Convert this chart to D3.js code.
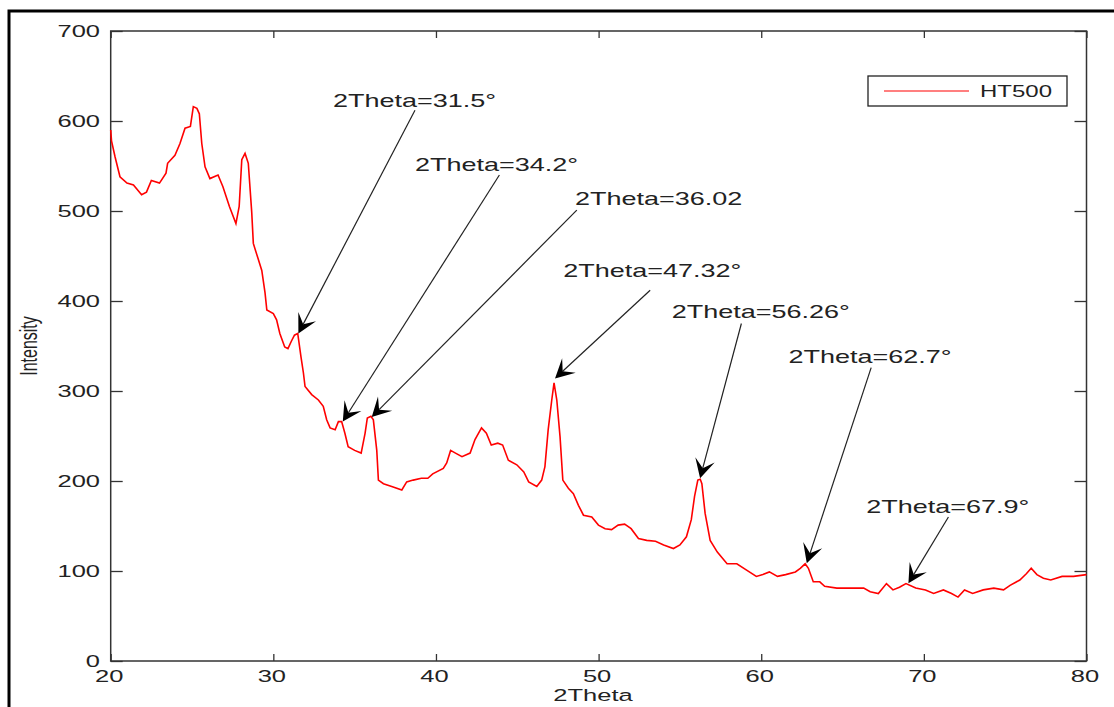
<!DOCTYPE html>
<html>
<head>
<meta charset="utf-8">
<script src="https://cdn.jsdelivr.net/npm/d3@7"></script>
<style>
  html, body { margin: 0; padding: 0; background: #fff; }
  svg { display: block; }
  text { font-family: "Liberation Sans", Arial, sans-serif; fill: #222; }
</style>
</head>
<body>
<svg id="chart" width="1114" height="707"></svg>
<script>
// XRD pattern of sample HT500: 2Theta (deg) vs intensity
const twoTheta = [
  20.0, 20.05, 20.27, 20.57, 21.0, 21.4, 21.9, 22.2, 22.5, 23.0, 23.4, 23.5, 23.95, 24.26, 24.57, 24.9,
  25.08, 25.3, 25.45, 25.6, 25.8, 26.1, 26.6, 26.9, 27.3, 27.7, 27.9, 28.06, 28.26, 28.46, 28.67, 28.77,
  29.08, 29.29, 29.49, 29.6, 30.0, 30.2, 30.4, 30.7, 30.9, 31.1, 31.3, 31.5, 31.7, 31.85, 31.95, 32.36,
  32.77, 33.07, 33.28, 33.49, 33.8, 34.0, 34.2, 34.4, 34.6, 35.0, 35.4, 35.64, 35.78, 36.0, 36.15, 36.36,
  36.46, 36.77, 37.28, 37.9, 38.2, 38.6, 39.1, 39.5, 39.8, 40.45, 40.66, 40.9, 41.2, 41.6, 42.1, 42.4,
  42.8, 43.1, 43.4, 43.8, 44.1, 44.45, 44.97, 45.4, 45.7, 46.2, 46.5, 46.7, 46.9, 47.12, 47.26, 47.43,
  47.63, 47.8, 48.14, 48.45, 48.76, 49.07, 49.58, 49.99, 50.4, 50.8, 51.2, 51.6, 52.0, 52.45, 52.96, 53.5,
  54.0, 54.6, 55.0, 55.4, 55.7, 55.9, 56.1, 56.25, 56.35, 56.55, 56.86, 57.3, 57.9, 58.5, 59.1, 59.7,
  60.1, 60.5, 61.0, 61.5, 62.1, 62.4, 62.7, 62.9, 63.2, 63.6, 63.9, 64.65, 65.5, 66.3, 66.7, 67.2,
  67.7, 68.1, 68.5, 68.9, 69.5, 70.1, 70.6, 71.2, 71.7, 72.1, 72.5, 73.0, 73.65, 74.3, 74.9, 75.3,
  75.9, 76.3, 76.6, 76.95, 77.35, 77.8, 78.5, 79.2, 80.0
];
const intensity = [
  590, 578, 560, 538, 531, 529, 518, 521, 534, 531, 542, 553, 562, 575, 592, 594,
  616, 614, 608, 575, 549, 536, 540, 527, 505, 486, 505, 557, 564, 553, 499, 464,
  446, 434, 409, 390, 386, 379, 364, 349, 347, 355, 362, 364, 338, 320, 305, 296,
  290, 283, 268, 259, 257, 266, 266, 253, 238, 234, 231, 253, 270, 272, 268, 234,
  201, 197, 194, 190, 199, 201, 203, 203, 208, 214, 220, 234, 231, 227, 231, 246,
  259, 253, 240, 242, 240, 223, 218, 210, 199, 194, 201, 216, 257, 290, 309, 290,
  249, 201, 192, 186, 173, 162, 160, 151, 147, 146, 151, 152, 147, 136, 134, 133,
  129, 125, 129, 138, 157, 183, 201, 202, 197, 164, 134, 121, 108, 108, 101, 94,
  96, 99, 94, 96, 99, 103, 108, 103, 88, 88, 83, 81, 81, 81, 77, 75,
  86, 79, 82, 86, 81, 79, 75, 79, 75, 71, 79, 75, 79, 81, 79, 84,
  90, 97, 103, 96, 92, 90, 94, 94, 96
];
const seriesName = "HT500";

const xTicks = [20, 30, 40, 50, 60, 70, 80];
const yTicks = [0, 100, 200, 300, 400, 500, 600, 700];
const xTitle = "2Theta";
const yTitle = "Intensity";

// Peak annotations: label, arrow tip, arrow tail, text anchor (data units)
const annLabels = ["2Theta=31.5°", "2Theta=34.2°", "2Theta=36.02", "2Theta=47.32°",
                   "2Theta=56.26°", "2Theta=62.7°", "2Theta=67.9°"];
const annTipX  = [31.54, 34.27, 36.05, 47.32, 56.24, 62.8, 69.05];
const annTipY  = [364, 266, 271, 314, 203, 108.6, 86.3];
const annTailX = [38.71, 43.9, 48.66, 53.17, 58.78, 66.76, 71.51];
const annTailY = [612, 540, 501, 412, 375, 326, 160];
const annTextX = [33.67, 38.71, 48.55, 47.82, 54.5, 61.67, 66.45];
const annTextY = [616, 544, 507, 427, 381, 331, 164];

const svg = d3.select("#chart");
const W = 1114, H = 707;
const SX = 1.5; // horizontal stretch of all lettering

const x = d3.scaleLinear().domain([20, 80]).range([110.7, 1086.5]);
const y = d3.scaleLinear().domain([0, 700]).range([661, 31]);

svg.append("rect").attr("width", W).attr("height", H).attr("fill", "#fff");

// outer figure frame
svg.append("rect")
  .attr("x", 9).attr("y", 11).attr("width", 1120).attr("height", 720)
  .attr("fill", "none").attr("stroke", "#000").attr("stroke-width", 3);

function stext(g, px, py, str, size, anchor) {
  return g.append("text")
    .attr("transform", `translate(${px},${py}) scale(${SX},1)`)
    .attr("text-anchor", anchor)
    .attr("font-size", size)
    .text(str);
}

// axes (ticks on all four sides, pointing inward)
const axisColor = "#333";
function styleAxis(g) {
  g.select(".domain").remove();
  g.selectAll(".tick line").attr("stroke", axisColor).attr("stroke-width", 1.3);
  g.selectAll(".tick text").remove();
}
svg.append("g").attr("transform", `translate(0,${y(0)})`)
  .call(d3.axisBottom(x).tickValues(xTicks).tickSizeInner(-7).tickSizeOuter(0)).call(styleAxis);
svg.append("g").attr("transform", `translate(0,${y(700)})`)
  .call(d3.axisTop(x).tickValues(xTicks).tickSizeInner(-7).tickSizeOuter(0)).call(styleAxis);
svg.append("g").attr("transform", `translate(${x(20)},0)`)
  .call(d3.axisLeft(y).tickValues(yTicks).tickSizeInner(-12).tickSizeOuter(0)).call(styleAxis);
svg.append("g").attr("transform", `translate(${x(80)},0)`)
  .call(d3.axisRight(y).tickValues(yTicks).tickSizeInner(-12).tickSizeOuter(0)).call(styleAxis);

svg.append("rect")
  .attr("x", x(20)).attr("y", y(700))
  .attr("width", x(80) - x(20)).attr("height", y(0) - y(700))
  .attr("fill", "none").attr("stroke", axisColor).attr("stroke-width", 1.5);

// tick labels
const labels = svg.append("g");
xTicks.forEach(v => stext(labels, x(v) - 1.5, 682, String(v), 17, "middle"));
yTicks.forEach(v => stext(labels, 100, y(v) + 6, String(v), 17, "end"));

// axis titles
stext(labels, 593, 701, xTitle, 17, "middle");
labels.append("text")
  .attr("transform", `translate(37,346) scale(${SX},1) rotate(-90)`)
  .attr("text-anchor", "middle")
  .attr("font-size", 16)
  .text(yTitle);

// pattern
const pts = twoTheta.map((t, i) => [t, intensity[i]]);
svg.append("path")
  .datum(pts)
  .attr("fill", "none")
  .attr("stroke", "#ff0000")
  .attr("stroke-width", 1.6)
  .attr("stroke-linejoin", "miter")
  .attr("d", d3.line().x(d => x(d[0])).y(d => y(d[1])));

// peak annotations
const ann = svg.append("g");
annLabels.forEach((lab, i) => {
  const tx = x(annTipX[i]), ty = y(annTipY[i]);
  const sx = x(annTailX[i]), sy = y(annTailY[i]);
  const dx = tx - sx, dy = ty - sy, len = Math.hypot(dx, dy);
  const ux = dx / len, uy = dy / len, nx = -uy, ny = ux;
  const L = 19, hw = 10, notch = 0.55;
  ann.append("line")
    .attr("x1", sx).attr("y1", sy)
    .attr("x2", tx - ux * L * notch).attr("y2", ty - uy * L * notch)
    .attr("stroke", "#222").attr("stroke-width", 1.2);
  const head = [
    [tx, ty],
    [tx - ux * L + nx * hw, ty - uy * L + ny * hw],
    [tx - ux * L * notch, ty - uy * L * notch],
    [tx - ux * L - nx * hw, ty - uy * L - ny * hw]
  ];
  ann.append("path")
    .attr("d", "M" + head.map(p => p.join(",")).join("L") + "Z")
    .attr("fill", "#000");
  stext(ann, x(annTextX[i]), y(annTextY[i]), lab, 18, "start");
});

// legend
const lg = svg.append("g");
lg.append("rect")
  .attr("x", 868).attr("y", 76).attr("width", 199).attr("height", 30)
  .attr("fill", "#fff").attr("stroke", "#222").attr("stroke-width", 1.3);
lg.append("line")
  .attr("x1", 884).attr("x2", 969).attr("y1", 91).attr("y2", 91)
  .attr("stroke", "#ff0000").attr("stroke-width", 1.2);
stext(lg, 980, 97, seriesName, 16, "start");
</script>
</body>
</html>
